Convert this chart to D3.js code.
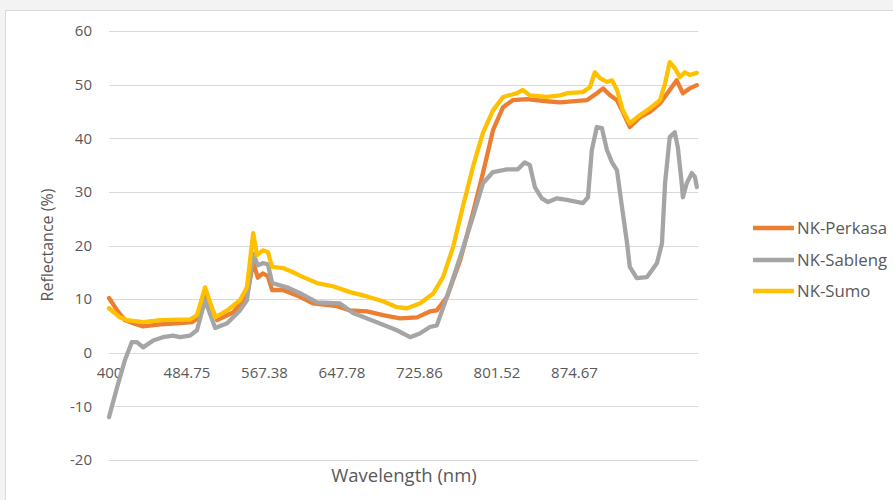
<!DOCTYPE html>
<html>
<head>
<meta charset="utf-8">
<script src="https://cdn.jsdelivr.net/npm/d3@7"></script>
<style>
  html, body { margin: 0; padding: 0; background: #f3f3f3; }
  svg { display: block; }
  text { font-family: "Open Sans", "Liberation Sans", sans-serif; fill: #595959; }
</style>
</head>
<body>
<svg id="chart" width="893" height="500"></svg>
<script>
// ---- Data (band index along the spectrometer axis, reflectance %) ----
const xTickBands = [0, 20, 40, 60, 80, 100, 120];
const xTickLabels = ["400", "484.75", "567.38", "647.78", "725.86", "801.52", "874.67"];
const yTicks = [-20, -10, 0, 10, 20, 30, 40, 50, 60];
const seriesNames = ["NK-Perkasa", "NK-Sableng", "NK-Sumo"];
const seriesColors = ["#ED7D31", "#A5A5A5", "#FFC000"];

const perkasa = [[0,10.2],[2.1,7.9],[4.1,6.1],[6.2,5.5],[8.8,4.9],[13.2,5.3],[17.5,5.5],[21.4,5.7],[23,6.5],[24.8,11],[27.9,6.1],[32,7.5],[34.6,9.8],[36,12],[37.2,16.9],[38.4,14],[39.7,14.8],[41,14.3],[42.1,11.7],[44.9,11.7],[48.5,10.7],[52.6,9.2],[58.8,8.7],[62.2,7.9],[66.6,7.7],[70.7,7],[75.1,6.4],[79.5,6.6],[82.8,7.7],[84.6,7.9],[87.2,10.4],[90.6,17.2],[93.9,26],[96.5,33.5],[99.1,41.5],[101.7,45.8],[104.2,47.1],[107.8,47.3],[113,46.9],[116.4,46.7],[123.3,47.1],[125.9,48.4],[127.5,49.3],[129.3,48],[131.1,47.1],[132.6,44.9],[134.4,42.1],[137,43.9],[139.6,44.9],[142.2,46.5],[144.7,49],[146.5,50.8],[148.1,48.4],[149.9,49.3],[151.7,49.9]];

const sableng = [[0,-12],[2.1,-6.4],[4.1,-1.4],[5.9,2],[7.2,2],[8.8,1],[11.4,2.3],[13.9,2.9],[16.5,3.2],[18.3,2.9],[20.9,3.2],[22.7,4.2],[24.8,9.8],[27.4,4.6],[30.5,5.5],[33.8,7.9],[35.6,9.8],[37.2,18.5],[38.4,16.3],[39.7,16.7],[41,16.5],[42.1,13],[45.9,12.2],[49.3,11.1],[53.7,9.4],[59.6,9.2],[63,7.4],[69.1,5.7],[74.3,4.2],[77.7,2.9],[80.2,3.6],[82.8,4.8],[84.6,5.1],[87.2,10.4],[90.6,17.8],[93.9,25.3],[96.5,31.6],[99.1,33.7],[102.7,34.2],[105.5,34.2],[107.3,35.5],[108.6,35],[109.9,30.9],[111.7,28.8],[113.3,28.1],[115.6,28.8],[118.2,28.5],[122.3,27.9],[123.6,29],[124.6,37.8],[125.9,42.1],[127.2,41.9],[128.5,37.8],[129.8,35.5],[131.1,34],[132.4,27.1],[133.7,20.4],[134.4,16],[136.2,13.9],[138.8,14.1],[141.4,16.7],[142.7,20.4],[143.5,31.6],[144.7,40.2],[146,41.1],[146.8,38.3],[147.8,31.6],[148.1,29],[149.1,31.6],[150.4,33.5],[151.2,32.8],[151.7,30.9]];

const sumo = [[0,8.3],[2.8,6.6],[4.6,6.1],[8.8,5.7],[13.2,6.1],[20.9,6.2],[22.7,7],[24.8,12.2],[27.4,6.6],[30.5,7.9],[33.8,9.8],[35.6,12.2],[37.2,22.3],[38.2,18.2],[39.7,19.1],[41,18.8],[42.1,16],[44.9,15.8],[47.5,15],[50.1,14.1],[53.7,13],[57.8,12.4],[62.2,11.3],[66.6,10.5],[70.7,9.6],[74.3,8.5],[76.9,8.3],[80.2,9.2],[83.6,11],[86.2,14.1],[88.8,19.7],[91.3,27.2],[93.9,34.6],[96.5,41],[99.1,45.2],[101.7,47.7],[105.3,48.4],[106.8,49],[108.6,48],[113,47.7],[116.4,48],[118.2,48.4],[122.3,48.6],[124.1,49.5],[125.4,52.3],[126.7,51.2],[128.5,50.5],[129.8,50.8],[131.1,49],[132.6,45.2],[134.4,42.8],[137,44.3],[139.6,45.6],[142.2,47.1],[143.5,50.2],[144.7,54.2],[146,53.1],[147.3,51.4],[148.6,52.3],[149.9,51.8],[151.7,52.2]];

const allSeries = [perkasa, sableng, sumo];

// ---- Drawing ----
const svg = d3.select("#chart");

// white chart panel
svg.append("rect")
  .attr("x", 5.5).attr("y", 10.5)
  .attr("width", 900).attr("height", 500)
  .attr("fill", "#ffffff")
  .attr("stroke", "#d9d9d9");

const x = d3.scaleLinear().domain([0, 152]).range([109, 698]);
const y = d3.scaleLinear().domain([-20, 60]).range([460, 31]);

// gridlines
svg.append("g")
  .selectAll("line")
  .data(yTicks)
  .join("line")
  .attr("x1", x(0)).attr("x2", x(152))
  .attr("y1", d => Math.round(y(d)) + 0.5)
  .attr("y2", d => Math.round(y(d)) + 0.5)
  .attr("stroke", "#d9d9d9")
  .attr("stroke-width", 1);

// y axis labels
const yAxis = d3.axisLeft(y).tickValues(yTicks).tickFormat(d => String(d)).tickSize(0).tickPadding(0);
const gy = svg.append("g").attr("transform", "translate(92,0)").call(yAxis);
gy.select(".domain").remove();
gy.selectAll("text")
  .attr("font-size", 15)
  .attr("font-family", "'Open Sans', sans-serif")
  .attr("fill", "#595959");

// x axis labels (sit below the zero line)
const xAxis = d3.axisBottom(x).tickValues(xTickBands)
  .tickFormat((d, i) => xTickLabels[i]).tickSize(0).tickPadding(0);
const gx = svg.append("g").attr("transform", `translate(0,${y(0) + 15})`).call(xAxis);
gx.select(".domain").remove();
gx.selectAll("text")
  .attr("font-size", 15)
  .attr("font-family", "'Open Sans', sans-serif")
  .attr("fill", "#595959");

// lines
const line = d3.line().x(d => x(d[0])).y(d => y(d[1]));
allSeries.forEach((s, i) => {
  svg.append("path")
    .datum(s)
    .attr("d", line)
    .attr("fill", "none")
    .attr("stroke", seriesColors[i])
    .attr("stroke-width", 4.3)
    .attr("stroke-linejoin", "round")
    .attr("stroke-linecap", "round");
});

// axis titles
svg.append("text")
  .attr("x", 404).attr("y", 482)
  .attr("text-anchor", "middle")
  .attr("font-size", 18.5)
  .text("Wavelength (nm)");

svg.append("text")
  .attr("transform", "translate(53,245) rotate(-90)")
  .attr("text-anchor", "middle")
  .attr("font-size", 16)
  .text("Reflectance (%)");

// legend
const legendY = [228, 260, 291];
const lg = svg.append("g");
seriesNames.forEach((name, i) => {
  lg.append("line")
    .attr("x1", 753).attr("x2", 794)
    .attr("y1", legendY[i]).attr("y2", legendY[i])
    .attr("stroke", seriesColors[i])
    .attr("stroke-width", 4.3);
  lg.append("text")
    .attr("x", 797).attr("y", legendY[i])
    .attr("dy", "0.35em")
    .attr("font-size", 16.8)
    .text(name);
});
</script>
</body>
</html>
